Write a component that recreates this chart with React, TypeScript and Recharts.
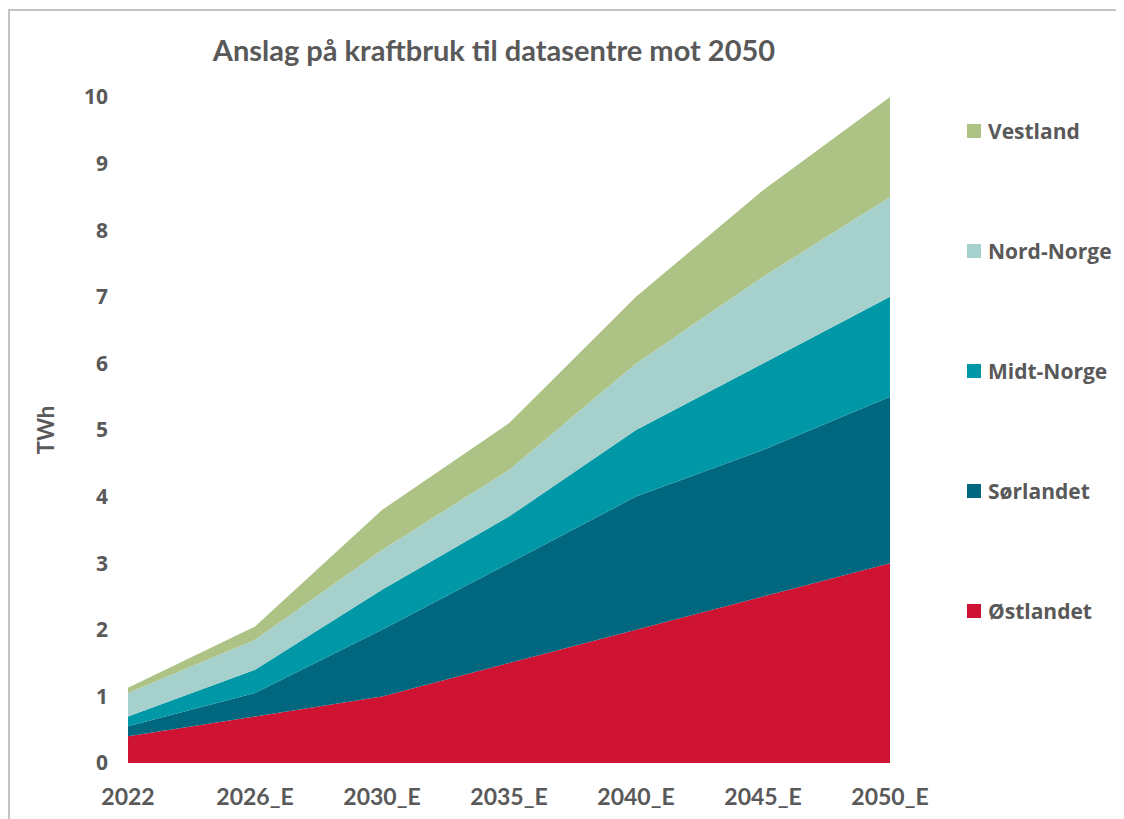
import { AreaChart, Area, XAxis, YAxis } from 'recharts'

const years = ['2022', '2026_E', '2030_E', '2035_E', '2040_E', '2045_E', '2050_E']
const ostlandet = [0.4, 0.7, 1.0, 1.5, 2.0, 2.5, 3.0]
const sorlandet = [0.15, 0.35, 1.0, 1.5, 2.0, 2.2, 2.5]
const midtNorge = [0.15, 0.35, 0.6, 0.7, 1.0, 1.3, 1.5]
const nordNorge = [0.35, 0.45, 0.6, 0.7, 1.0, 1.3, 1.5]
const vestland = [0.08, 0.2, 0.6, 0.7, 1.0, 1.3, 1.5]
const yTicks = [0, 1, 2, 3, 4, 5, 6, 7, 8, 9, 10]

const series = [
  { key: 'Østlandet', values: ostlandet, color: '#CE1432' },
  { key: 'Sørlandet', values: sorlandet, color: '#00677F' },
  { key: 'Midt-Norge', values: midtNorge, color: '#0097A7' },
  { key: 'Nord-Norge', values: nordNorge, color: '#A6D0CC' },
  { key: 'Vestland', values: vestland, color: '#ADC285' }
]

const data = years.map((year, i) => {
  const row: Record<string, string | number> = { year }
  series.forEach((s) => {
    row[s.key] = s.values[i]
  })
  return row
})

const TEXT = '#595959'

export default function App() {
  return (
    <div style={{ position: 'relative', width: 1116, height: 811 }}>
      <div
        style={{
          position: 'absolute',
          left: 0,
          top: 1,
          width: 1116,
          height: 810,
          borderTop: '2px solid #c4c4c4',
          borderLeft: '2px solid #c4c4c4',
          boxSizing: 'border-box',
          pointerEvents: 'none'
        }}
      />
      <div
        style={{
          position: 'absolute',
          left: 0,
          width: 972,
          top: 24,
          textAlign: 'center',
          fontFamily: 'Lato',
          fontWeight: 700,
          fontSize: 29,
          color: TEXT
        }}
      >
        Anslag på kraftbruk til datasentre mot 2050
      </div>
      <AreaChart width={1116} height={811} data={data} margin={{ top: 89, right: 234, left: 0, bottom: 0 }}>
        <XAxis
          dataKey="year"
          height={56}
          axisLine={false}
          tickLine={false}
          tickSize={0}
          tickMargin={26}
          interval={0}
          tick={{ fill: TEXT, fontFamily: 'Lato', fontWeight: 700, fontSize: 23 }}
        />
        <YAxis
          width={120}
          domain={[0, 10]}
          ticks={yTicks}
          axisLine={false}
          tickLine={false}
          tickSize={0}
          tickMargin={20}
          tick={{ fill: TEXT, fontFamily: 'Open Sans', fontWeight: 700, fontSize: 21 }}
          label={{
            content: ({ viewBox }: any) => {
              const cx = 37
              const cy = viewBox.y + viewBox.height / 2
              return (
                <text
                  x={cx}
                  y={cy}
                  transform={`rotate(-90 ${cx} ${cy})`}
                  textAnchor="middle"
                  dominantBaseline="central"
                  fill={TEXT}
                  style={{ fontFamily: 'Lato', fontWeight: 700, fontSize: 22 }}
                >
                  TWh
                </text>
              )
            }
          }}
        />
        {series.map((s) => (
          <Area
            key={s.key}
            type="linear"
            dataKey={s.key}
            stackId="1"
            stroke="none"
            fill={s.color}
            fillOpacity={1}
            isAnimationActive={false}
          />
        ))}
      </AreaChart>
      <div style={{ position: 'absolute', left: 959, top: 111 }}>
        {[...series].reverse().map((s) => (
          <div key={s.key} style={{ display: 'flex', alignItems: 'center', height: 24, marginBottom: 96 }}>
            <span style={{ width: 14, height: 14, background: s.color, display: 'inline-block', marginRight: 7 }} />
            <span style={{ fontFamily: 'Open Sans', fontWeight: 700, fontSize: 21, color: TEXT, whiteSpace: 'nowrap' }}>
              {s.key}
            </span>
          </div>
        ))}
      </div>
    </div>
  )
}
